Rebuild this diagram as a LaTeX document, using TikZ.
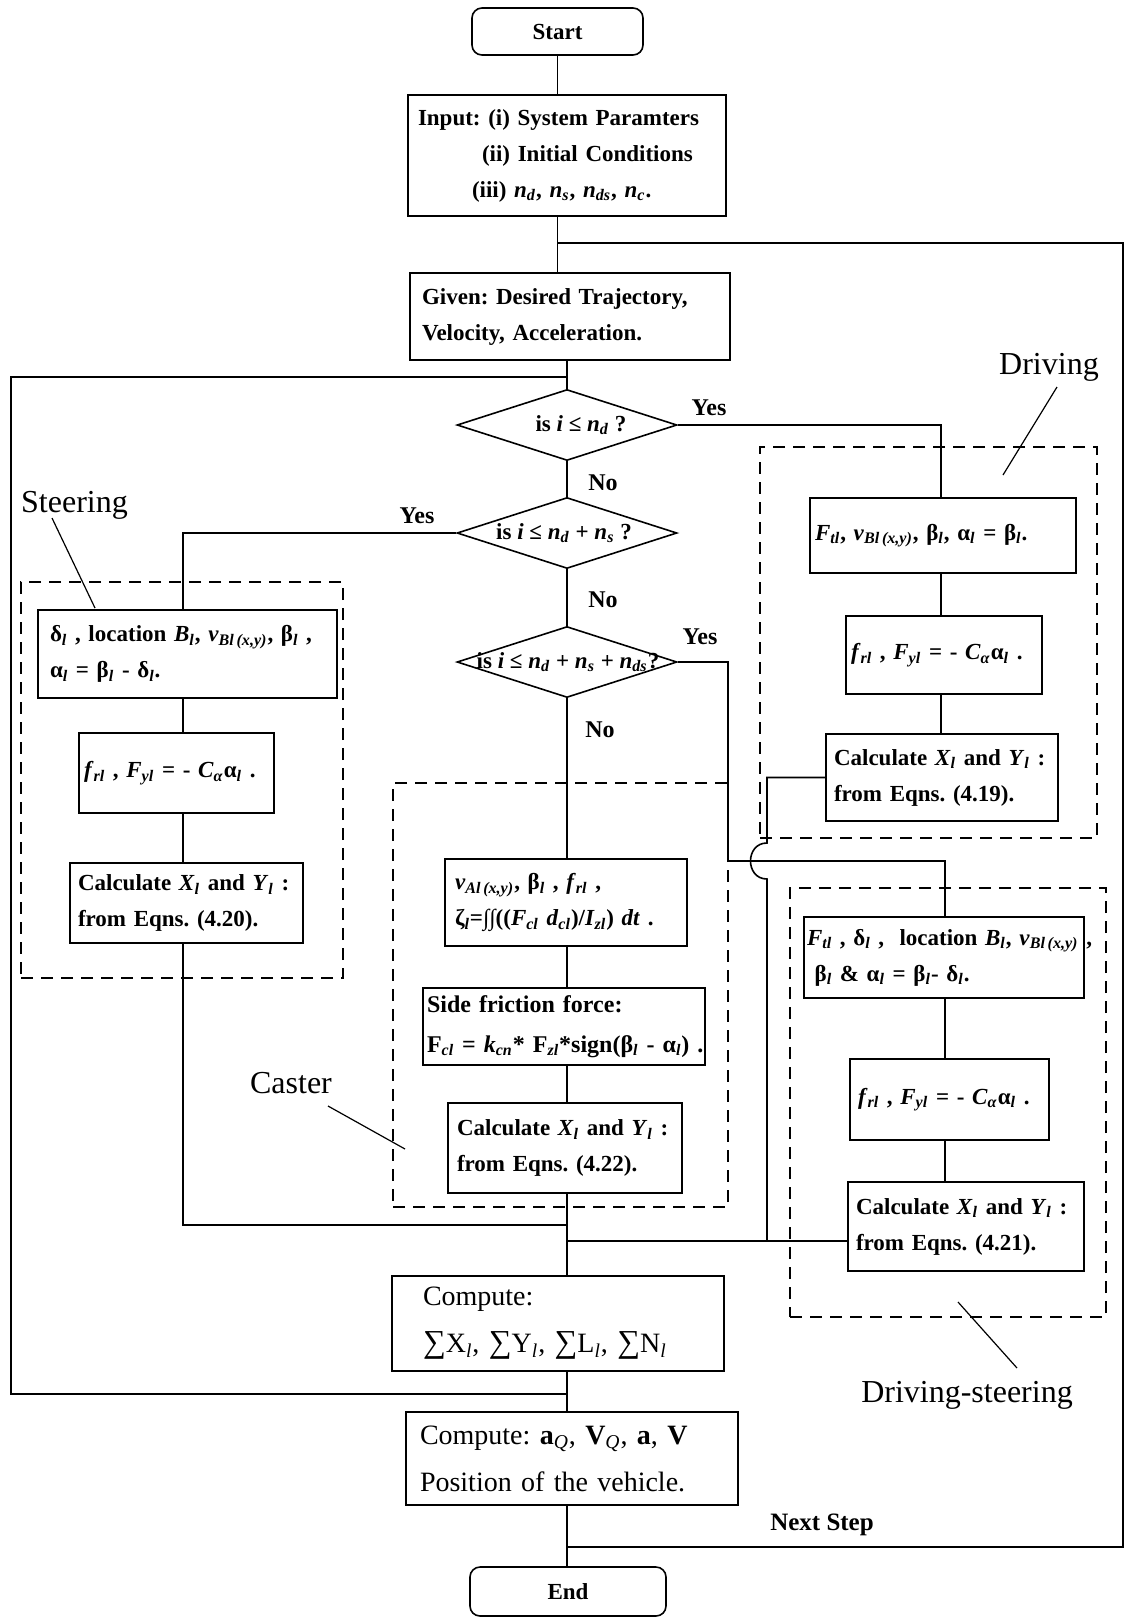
\documentclass[tikz,border=0pt]{standalone}
\usepackage{fontspec}
\setmainfont{Liberation Serif}
\usetikzlibrary{shapes.geometric}
\frenchspacing
\newcommand\vs[2]{\textit{#1}\textsubscript{\textit{#2}}}
\newcommand\gs[2]{#1\textsubscript{\textit{#2}}}
\tikzset{
  ln/.style={line width=0.8pt},
  box/.style={draw, line width=0.8pt, align=left, inner ysep=0pt, font=\fontsize{11.5}{18}\selectfont\bfseries},
  term/.style={draw, line width=0.8pt, rounded corners=5pt, inner sep=0pt, font=\fontsize{11.5}{14}\selectfont\bfseries},
  dia/.style={draw, diamond, line width=0.8pt, inner sep=0pt, minimum width=110pt, minimum height=35.5pt},
  dtext/.style={inner sep=0pt, font=\fontsize{11.5}{14}\selectfont\bfseries},
  yn/.style={inner sep=0pt, font=\fontsize{12}{14}\selectfont\bfseries},
  grp/.style={draw, dashed, dash pattern=on 6pt off 4pt, line width=0.7pt, inner sep=0pt},
  lab/.style={inner sep=0pt, font=\fontsize{16}{18}\selectfont},
}
\begin{document}
\frenchspacing
\begin{tikzpicture}[x=0.5pt, y=-0.5pt]
\useasboundingbox (0,0) rectangle (1126,1619);
% trunk coordinates
\coordinate (T) at (567,0);
\coordinate (SX) at (183,0);
\coordinate (DX) at (941,0);
\coordinate (DSX) at (945,0);

% main column
\node[term, minimum width=85.5pt, minimum height=23.5pt] (start) at (557.5,31.5) {Start};
\node[box, minimum width=159pt, minimum height=60.5pt, inner xsep=5pt, text width=149pt] (input) at (567,155.5)
 {\mbox{Input: (i) System Paramters}\\\mbox{\hspace*{32pt}(ii) Initial Conditions}\\\mbox{\hspace*{27pt}(iii) \vs{n}{d}, \vs{n}{s}, \vs{n}{ds}, \vs{n}{c}.}};
\node[box, minimum width=160pt, minimum height=43.5pt, inner xsep=6pt, text width=148pt] (given) at (570,316.5)
 {\mbox{Given: Desired Trajectory,}\\\mbox{Velocity, Acceleration.}};

\node[dia] (d1) at (567,425) {};
\node[dtext] (d1t) at (581,425) {is \textit{i} ≤ \vs{n}{d} ?};
\node[dia] (d2) at (567,533) {};
\node[dtext] (d2t) at (564,533) {is \textit{i} ≤ \vs{n}{d} + \vs{n}{s} ?};
\node[dia] (d3) at (567,662) {};
\node[dtext] (d3t) at (568,662) {is \textit{i} ≤ \vs{n}{d} + \vs{n}{s} + \vs{n}{ds}?};

% steering
\node[grp, minimum width=161pt, minimum height=198pt] (gS) at (182,780) {};
\node[box, minimum width=149.5pt, minimum height=44pt, inner xsep=6pt, text width=137.5pt] (s1) at (187.5,654)
 {\mbox{\gs{δ}{l} , location \vs{B}{l}, \vs{v}{Bl\,(x,y)}, \gs{β}{l} ,}\\\mbox{\gs{α}{l} = \gs{β}{l} - \gs{δ}{l}.}};
\node[box, minimum width=97.5pt, minimum height=40pt, inner xsep=2.5pt, text width=92.5pt] (s2) at (176.5,773)
 {\mbox{\vs{f}{rl} , \vs{F}{yl} = - \vs{C}{α}\gs{α}{l} .}};
\node[box, minimum width=116.5pt, minimum height=40pt, inner xsep=4pt, text width=108.5pt] (s3) at (186.5,903)
 {\mbox{Calculate \vs{X}{l} and \vs{Y}{l} :}\\\mbox{from Eqns. (4.20).}};

% driving
\node[grp, minimum width=168.5pt, minimum height=195.5pt] (gD) at (928.5,642.5) {};
\node[box, minimum width=133pt, minimum height=37.5pt, inner xsep=2.5pt, text width=128pt] (r1) at (943,535.5)
 {\mbox{\vs{F}{tl}, \vs{v}{Bl\,(x,y)}, \gs{β}{l}, \gs{α}{l} = \gs{β}{l}.}};
\node[box, minimum width=98pt, minimum height=39pt, inner xsep=2.5pt, text width=93pt] (r2) at (944,655)
 {\mbox{\vs{f}{rl} , \vs{F}{yl} = - \vs{C}{α}\gs{α}{l} .}};
\node[box, minimum width=116pt, minimum height=43.5pt, inner xsep=4pt, text width=108pt] (r3) at (942,777.5)
 {\mbox{Calculate \vs{X}{l} and \vs{Y}{l} :}\\\mbox{from Eqns. (4.19).}};

% caster
\node[grp, minimum width=167.5pt, minimum height=212pt] (gC) at (560.5,995) {};
\node[box, minimum width=121pt, minimum height=43.5pt, inner xsep=5pt, text width=111pt] (c1) at (566,902.5)
 {\mbox{\vs{v}{Al\,(x,y)}, \gs{β}{l} , \vs{f}{rl} ,}\\\mbox{\gs{ζ}{l}=∫∫((\vs{F}{cl} \vs{d}{cl})/\vs{I}{zl}) \textit{dt} .}};
\node[box, minimum width=141pt, minimum height=38.5pt, inner xsep=2pt, text width=137pt, font=\fontsize{12}{20}\selectfont\bfseries] (c2) at (564,1026.5)
 {\mbox{Side friction force:}\\\mbox{F\textsubscript{\textit{cl}} = \vs{k}{cn}* F\textsubscript{\textit{zl}}*sign(\gs{β}{l} - \gs{α}{l}) .}};
\node[box, minimum width=117pt, minimum height=45pt, inner xsep=4.5pt, text width=108pt] (c3) at (565,1148)
 {\mbox{Calculate \vs{X}{l} and \vs{Y}{l} :}\\\mbox{from Eqns. (4.22).}};

% driving-steering
\node[grp, minimum width=158pt, minimum height=214.5pt] (gDS) at (948,1102.5) {};
\node[box, minimum width=140pt, minimum height=40.5pt, inner xsep=1.5pt, text width=137pt] (ds1) at (944,957.5)
 {\mbox{\vs{F}{tl} , \gs{δ}{l} ,\ \ location \vs{B}{l}, \vs{v}{Bl\,(x,y)} ,}\\\mbox{\ \gs{β}{l} \& \gs{α}{l} = \gs{β}{l}- \gs{δ}{l}.}};
\node[box, minimum width=99.5pt, minimum height=40.5pt, inner xsep=4pt, text width=91.5pt] (ds2) at (949.5,1099.5)
 {\mbox{\vs{f}{rl} , \vs{F}{yl} = - \vs{C}{α}\gs{α}{l} .}};
\node[box, minimum width=118pt, minimum height=44.5pt, inner xsep=4pt, text width=110pt] (ds3) at (966,1226.5)
 {\mbox{Calculate \vs{X}{l} and \vs{Y}{l} :}\\\mbox{from Eqns. (4.21).}};

% bottom
\node[box, minimum width=166pt, minimum height=47.5pt, inner xsep=15.5pt, text width=135pt, font=\fontsize{14}{23.5}\selectfont] (comp1) at (558,1323.5)
 {\mbox{Compute:}\\\mbox{{\fontsize{16}{16}\selectfont∑}X\textsubscript{\textit{l}}, {\fontsize{16}{16}\selectfont∑}Y\textsubscript{\textit{l}}, {\fontsize{16}{16}\selectfont∑}L\textsubscript{\textit{l}}, {\fontsize{16}{16}\selectfont∑}N\textsubscript{\textit{l}}}};
\node[box, minimum width=166pt, minimum height=46.5pt, inner xsep=7pt, text width=152pt, font=\fontsize{14}{23.5}\selectfont] (comp2) at (572,1458.5)
 {\mbox{Compute: \textbf{a}\textsubscript{\textit{Q}}, \textbf{V}\textsubscript{\textit{Q}}, \textbf{a}, \textbf{V}}\\\mbox{Position of the vehicle.}};
\node[term, minimum width=98pt, minimum height=24.5pt] (endn) at (568,1591.5) {End};

% junction coordinates
\coordinate (jtop) at (557.5,243);
\coordinate (jleft) at (567,377);
\coordinate (jst) at (567,1225);
\coordinate (jds) at (567,1241);
\coordinate (jret) at (567,1394);
\coordinate (jnext) at (567,1547);
\coordinate (hopA) at (767,843);
\coordinate (hopB) at (767,879);
\coordinate (hopE) at (767,1241);

% connectors main
\draw[ln] (start.south) -- (start.south |- input.north);
\draw[ln] (start.south |- input.south) -- (start.south |- given.north);
\draw[ln] (given.south -| T) -- (d1.north);
\draw[ln] (d1.south) -- (d2.north);
\draw[ln] (d2.south) -- (d3.north);
\draw[ln] (d3.south) -- (c1.north -| T);
\draw[ln] (c1.south -| T) -- (c2.north -| T);
\draw[ln] (c2.south -| T) -- (c3.north -| T);
\draw[ln] (c3.south -| T) -- (comp1.north -| T);
\draw[ln] (comp1.south -| T) -- (comp2.north -| T);
\draw[ln] (comp2.south -| T) -- (endn.north -| T);

% loops
\draw[ln] (jtop) -- (1123,243) -- (1123,1547) -- (jnext);
\draw[ln] (jleft) -- (11,377) -- (11,1394) -- (jret);

% driving branch
\draw[ln] (d1.east) -| (r1.north -| DX);
\draw[ln] (r1.south -| DX) -- (r2.north -| DX);
\draw[ln] (r2.south -| DX) -- (r3.north -| DX);
\draw[ln] (r3.west) -| (hopA) .. controls (745,843) and (745,879) .. (hopB) -- (hopE);

% steering branch
\draw[ln] (d2.west) -| (s1.north -| SX);
\draw[ln] (s1.south -| SX) -- (s2.north -| SX);
\draw[ln] (s2.south -| SX) -- (s3.north -| SX);
\draw[ln] (s3.south -| SX) |- (jst);

% driving-steering branch
\draw[ln] (d3.east) -| (728,861) -| (ds1.north -| DSX);
\draw[ln] (ds1.south -| DSX) -- (ds2.north -| DSX);
\draw[ln] (ds2.south -| DSX) -- (ds3.north -| DSX);
\draw[ln] (jds) -- (ds3.west |- jds);

% yes / no labels
\node[yn] (y1) at (709,408) {Yes};
\node[yn] (y2) at (417,516) {Yes};
\node[yn] (y3) at (700,637) {Yes};
\node[yn] (n1) at (603,483) {No};
\node[yn] (n2) at (603,600) {No};
\node[yn] (n3) at (600,730) {No};
\node[inner sep=0pt, font=\fontsize{12.5}{14}\selectfont\bfseries] (nxt) at (822,1525) {Next Step};

% group labels and pointers
\node[lab] (lD) at (1049,367) {Driving};
\node[lab] (lS) at (74.5,505) {Steering};
\node[lab] (lC) at (291,1083) {Caster};
\node[lab] (lDS) at (967,1395) {Driving-steering};
\coordinate (pD1) at (1057,387); \coordinate (pD2) at (1003,475);
\coordinate (pS1) at (52,518); \coordinate (pS2) at (95,608);
\coordinate (pC1) at (328,1106); \coordinate (pC2) at (405,1149);
\coordinate (pX1) at (1017,1368); \coordinate (pX2) at (958,1302);
\draw[line width=0.6pt] (pD1) -- (pD2);
\draw[line width=0.6pt] (pS1) -- (pS2);
\draw[line width=0.6pt] (pC1) -- (pC2);
\draw[line width=0.6pt] (pX1) -- (pX2);
\end{tikzpicture}
\end{document}
